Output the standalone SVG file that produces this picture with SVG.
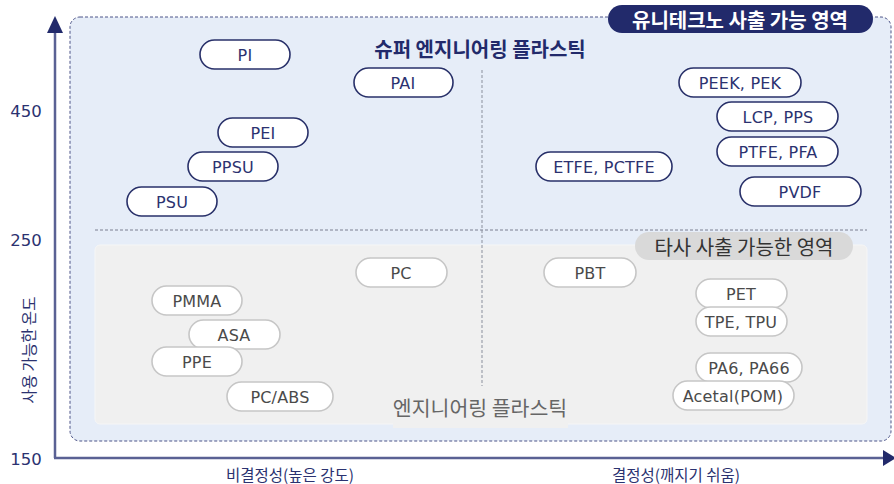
<svg xmlns="http://www.w3.org/2000/svg" width="894" height="484" viewBox="0 0 894 484">
<defs>
<style>
text{font-family:"Noto Sans CJK KR","Noto Sans",sans-serif;}
.sp rect{fill:#fff;stroke:#283069;stroke-width:1.6;}
.sp text{fill:#2b3270;font-family:"DejaVu Sans","Noto Sans",sans-serif;font-size:16px;letter-spacing:0.2px;text-anchor:middle;dominant-baseline:central;}
.ep rect{fill:#fff;stroke:#c6c6c6;stroke-width:1.6;}
.ep text{fill:#4a4a4a;font-family:"DejaVu Sans","Noto Sans",sans-serif;font-size:16px;letter-spacing:0.2px;text-anchor:middle;dominant-baseline:central;}
.tick{fill:#2b3270;font-family:"DejaVu Sans","Noto Sans",sans-serif;font-size:16.5px;text-anchor:middle;dominant-baseline:central;}
.axl{fill:#2b3270;font-size:15.5px;text-anchor:middle;dominant-baseline:central;}
</style>
</defs>
<rect width="894" height="484" fill="#fff"/>
<g id="regions">
<rect x="70" y="17" width="821" height="424" rx="10" fill="#e6edf8" stroke="#4c5488" stroke-width="1" stroke-dasharray="3,2"/>
<rect x="95" y="245" width="772" height="179" rx="5" fill="#f0f0f0" stroke="#f6f6f6" stroke-width="1"/>
<line x1="95" y1="230" x2="867" y2="230" stroke="#7a7f90" stroke-width="1" stroke-dasharray="3,2"/>
<line x1="482" y1="70" x2="482" y2="386" stroke="#8a8f9c" stroke-width="1" stroke-dasharray="3,2"/>
</g>
<g id="axes">
<line x1="55" y1="30" x2="55" y2="458" stroke="#5a6194" stroke-width="2.5"/>
<path d="M47,33 L55,16 L63,33 z" fill="#222a6b"/>
<line x1="54" y1="458" x2="884" y2="458" stroke="#5a6194" stroke-width="2.5"/>
<path d="M883,450 L896,458 L883,466 z" fill="#222a6b"/>
<text class="tick" x="26" y="111">450</text>
<text class="tick" x="26" y="240">250</text>
<text class="tick" x="26" y="459">150</text>
<text class="axl" transform="translate(28,350) rotate(-90)">사용 가능한 온도</text>
<text class="axl" x="290" y="474">비결정성(높은 강도)</text>
<text class="axl" x="676" y="474">결정성(깨지기 쉬움)</text>
</g>
<g id="badge-unitechno">
<rect x="608" y="5" width="265" height="28" rx="14" fill="#222a6b"/>
<text x="740" y="19" fill="#fff" font-size="20" font-weight="bold" text-anchor="middle" dominant-baseline="central">유니테크노 사출 가능 영역</text>
</g>
<g id="title-super">
<text x="480" y="48" fill="#222a6b" font-size="20" font-weight="bold" text-anchor="middle" dominant-baseline="central">슈퍼 엔지니어링 플라스틱</text>
</g>
<g id="badge-other">
<rect x="635" y="232" width="218" height="28" rx="14" fill="#d9d9d9"/>
<text x="744" y="246" fill="#333" font-size="20" text-anchor="middle" dominant-baseline="central">타사 사출 가능한 영역</text>
</g>
<g id="title-eng">
<rect x="393" y="392" width="175" height="36" fill="#f0f0f0"/>
<text x="480" y="407" fill="#666" font-size="20.5" text-anchor="middle" dominant-baseline="central">엔지니어링 플라스틱</text>
</g>
<g id="PI" class="sp"><rect x="200" y="40" width="90" height="29" rx="14.5"/><text x="245" y="55">PI</text></g>
<g id="PAI" class="sp"><rect x="354" y="68" width="99" height="29" rx="14.5"/><text x="403" y="83">PAI</text></g>
<g id="PEI" class="sp"><rect x="218" y="118" width="90" height="29" rx="14.5"/><text x="263" y="133">PEI</text></g>
<g id="PPSU" class="sp"><rect x="188" y="152" width="90" height="29" rx="14.5"/><text x="233" y="167">PPSU</text></g>
<g id="PSU" class="sp"><rect x="127" y="187" width="90" height="29" rx="14.5"/><text x="172" y="202">PSU</text></g>
<g id="PEEK" class="sp"><rect x="679" y="68" width="122" height="29" rx="14.5"/><text x="740" y="83">PEEK, PEK</text></g>
<g id="LCP" class="sp"><rect x="717" y="102" width="121" height="29" rx="14.5"/><text x="778" y="117">LCP, PPS</text></g>
<g id="PTFE" class="sp"><rect x="717" y="137" width="121" height="29" rx="14.5"/><text x="778" y="152">PTFE, PFA</text></g>
<g id="ETFE" class="sp"><rect x="536" y="152" width="136" height="29" rx="14.5"/><text x="604" y="167">ETFE, PCTFE</text></g>
<g id="PVDF" class="sp"><rect x="740" y="177" width="121" height="29" rx="14.5"/><text x="800" y="192">PVDF</text></g>
<g id="PC" class="ep"><rect x="356" y="258" width="91" height="29" rx="14.5"/><text x="401" y="273">PC</text></g>
<g id="PMMA" class="ep"><rect x="152" y="286" width="90" height="29" rx="14.5"/><text x="197" y="301">PMMA</text></g>
<g id="ASA" class="ep"><rect x="189" y="320" width="91" height="29" rx="14.5"/><text x="234" y="335">ASA</text></g>
<g id="PPE" class="ep"><rect x="152" y="347" width="90" height="29" rx="14.5"/><text x="197" y="362">PPE</text></g>
<g id="PCABS" class="ep"><rect x="227" y="382" width="106" height="29" rx="14.5"/><text x="280" y="397">PC/ABS</text></g>
<g id="PBT" class="ep"><rect x="544" y="258" width="92" height="29" rx="14.5"/><text x="590" y="273">PBT</text></g>
<g id="PET" class="ep"><rect x="696" y="279" width="91" height="29" rx="14.5"/><text x="741" y="294">PET</text></g>
<g id="TPE" class="ep"><rect x="696" y="307" width="91" height="29" rx="14.5"/><text x="741" y="322">TPE, TPU</text></g>
<g id="PA6" class="ep"><rect x="696" y="353" width="106" height="29" rx="14.5"/><text x="749" y="368">PA6, PA66</text></g>
<g id="Acetal" class="ep"><rect x="673" y="381" width="121" height="29" rx="14.5"/><text x="733" y="396">Acetal(POM)</text></g>
<g id="connectors"></g>
</svg>
